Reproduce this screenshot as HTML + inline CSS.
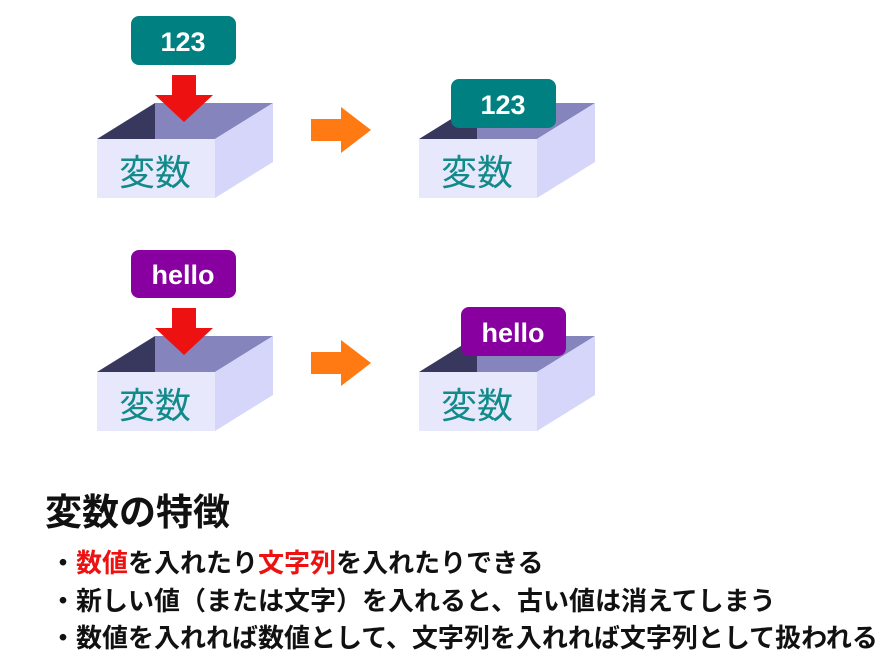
<!DOCTYPE html>
<html><head><meta charset="utf-8"><style>
body{margin:0;width:893px;height:669px;background:#fff;overflow:hidden;font-family:"Liberation Sans","Noto Sans CJK JP",sans-serif}
.t{position:absolute;white-space:nowrap;font-weight:bold;color:#111;line-height:1}
</style></head><body>
<svg width="893" height="669" style="position:absolute;left:0;top:0">
<defs>
<g id="box">
<polygon points="0,35 58,-1 58,35" fill="#38385f"/>
<polygon points="58,-1 176,-1 118,35 58,35" fill="#8584bd"/>
<polygon points="118,35 176,-1 176,58 118,94" fill="#d6d6fa"/>
<rect x="0" y="35" width="118" height="59" fill="#e8e8fc"/>
<text x="58" y="81" font-size="36" fill="#118a8a" text-anchor="middle" font-family="Noto Sans CJK JP,sans-serif">変数</text>
</g>
<g id="arr"><polygon points="0,-11 30,-11 30,-23 60,0 30,23 30,11 0,11" fill="#ff7a12"/></g>
<g id="red"><polygon points="17,0 41,0 41,20 58,20 29,47 0,20 17,20" fill="#ee1111"/></g>
</defs>
<use href="#box" x="97" y="104"/>
<use href="#box" x="419" y="104"/>
<use href="#box" x="97" y="337"/>
<use href="#box" x="419" y="337"/>
<use href="#red" x="155" y="75"/>
<use href="#red" x="155" y="308"/>
<use href="#arr" x="311" y="130"/>
<use href="#arr" x="311" y="363"/>
<g font-family="Liberation Sans,sans-serif" font-weight="bold" font-size="27" fill="#fff" text-anchor="middle">
<rect x="131" y="16" width="105" height="49" rx="8" fill="#008080"/><text x="183" y="51">123</text>
<rect x="451" y="79" width="105" height="49" rx="8" fill="#008080"/><text x="503" y="114">123</text>
<rect x="131" y="250" width="105" height="48" rx="8" fill="#8800a0"/><text x="183" y="284">hello</text>
<rect x="461" y="307" width="105" height="49" rx="8" fill="#8800a0"/><text x="513" y="342">hello</text>
</g>
</svg>
<div class="t" style="left:45px;top:494px;font-size:37px">変数の特徴</div>
<div class="t" style="left:50px;top:550px;font-size:26px">・<span style="color:#ee1111">数値</span>を入れたり<span style="color:#ee1111">文字列</span>を入れたりできる</div>
<div class="t" style="left:50px;top:588px;font-size:26px">・新しい値（または文字）を入れると、古い値は消えてしまう</div>
<div class="t" style="left:50px;top:625px;font-size:26px">・数値を入れれば数値として、文字列を入れれば文字列として扱われる</div>
</body></html>
